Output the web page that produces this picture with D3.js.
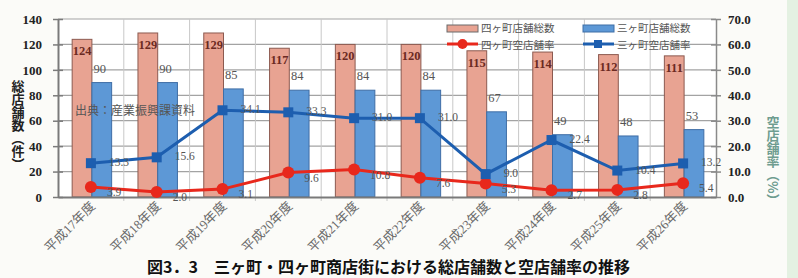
<!DOCTYPE html>
<html>
<head>
<meta charset="utf-8">
<script src="https://cdn.jsdelivr.net/npm/d3@7"></script>
<style>
  body { margin: 0; background: #fbfbf8; }
  svg { display: block; }
</style>
</head>
<body>
<svg id="chart"></svg>
<script>
const years = ['平成17年度', '平成18年度', '平成19年度', '平成20年度', '平成21年度',
  '平成22年度', '平成23年度', '平成24年度', '平成25年度', '平成26年度'];
const yotsuStores = [124, 129, 129, 117, 120, 120, 115, 114, 112, 111];
const mikaStores = [90, 90, 85, 84, 84, 84, 67, 49, 48, 53];
const yotsuVacancy = [3.9, 2.0, 3.1, 9.6, 10.8, 7.6, 5.3, 2.7, 2.8, 5.4];
const mikaVacancy = [13.3, 15.6, 34.1, 33.3, 31.0, 31.0, 9.0, 22.4, 10.4, 13.2];
const leftTicks = [0, 20, 40, 60, 80, 100, 120, 140];
const rightTicks = [0, 10, 20, 30, 40, 50, 60, 70];

const width = 798;
const height = 278;
const margin = { left: 58, right: 82, top: 19, bottom: 81 };

const serif = '"Liberation Serif", "DejaVu Serif", "Noto Sans CJK JP", serif';
const cjk = '"Noto Sans CJK JP", sans-serif';

const svg = d3.select('#chart')
  .attr('width', width)
  .attr('height', height);

// light green strip on the right edge
svg.append('rect')
  .attr('x', 787).attr('y', 0).attr('width', 11).attr('height', height)
  .attr('fill', '#e4f1e2');

const x = d3.scaleBand()
  .domain(years)
  .range([margin.left, width - margin.right]);

const yLeft = d3.scaleLinear()
  .domain([0, 140])
  .range([height - margin.bottom, margin.top]);

const yRight = d3.scaleLinear()
  .domain([0, 70])
  .range([height - margin.bottom, margin.top]);

const plotW = width - margin.left - margin.right;

// plot background
svg.append('rect')
  .attr('x', margin.left).attr('y', margin.top)
  .attr('width', plotW).attr('height', yLeft(0) - margin.top)
  .attr('fill', '#fff');

// horizontal grid
svg.append('g')
  .selectAll('line')
  .data(leftTicks.slice(1))
  .join('line')
  .attr('x1', margin.left).attr('x2', width - margin.right)
  .attr('y1', (d) => yLeft(d)).attr('y2', (d) => yLeft(d))
  .attr('stroke', '#a3a3a3')
  .attr('stroke-width', 1.2);

// vertical grid at category boundaries
svg.append('g')
  .selectAll('line')
  .data(years.slice(1))
  .join('line')
  .attr('x1', (d) => x(d)).attr('x2', (d) => x(d))
  .attr('y1', margin.top).attr('y2', yLeft(0) + 4)
  .attr('stroke', '#c8c8c8')
  .attr('stroke-width', 1);

const barW = x.bandwidth() * 0.3;
const groupOffset = (x.bandwidth() - barW * 2) / 2 + 1;

// bars
svg.append('g')
  .selectAll('rect')
  .data(yotsuStores)
  .join('rect')
  .attr('x', (d, i) => x(years[i]) + groupOffset)
  .attr('y', (d) => yLeft(d))
  .attr('width', barW)
  .attr('height', (d) => yLeft(0) - yLeft(d))
  .attr('fill', '#e8a392')
  .attr('stroke', '#8c5a50')
  .attr('stroke-width', 1);

svg.append('g')
  .selectAll('rect')
  .data(mikaStores)
  .join('rect')
  .attr('x', (d, i) => x(years[i]) + groupOffset + barW)
  .attr('y', (d) => yLeft(d))
  .attr('width', barW)
  .attr('height', (d) => yLeft(0) - yLeft(d))
  .attr('fill', '#5d98d6')
  .attr('stroke', '#3f6ea6')
  .attr('stroke-width', 1);

// axes
const leftAxis = d3.axisLeft(yLeft)
  .tickValues(leftTicks)
  .tickSize(0)
  .tickPadding(16);

const gLeft = svg.append('g')
  .attr('transform', `translate(${margin.left},0)`)
  .call(leftAxis);
gLeft.select('.domain').attr('stroke', '#7a7a7a').attr('stroke-width', 2);
gLeft.selectAll('text')
  .attr('font-family', serif)
  .attr('font-weight', 'bold')
  .attr('font-size', 13)
  .attr('fill', '#222');
gLeft.selectAll('.tick')
  .append('line')
  .attr('x1', -5).attr('x2', 5)
  .attr('stroke', '#7a7a7a').attr('stroke-width', 1.5);

const rightAxis = d3.axisRight(yRight)
  .tickValues(rightTicks)
  .tickSize(0)
  .tickPadding(12)
  .tickFormat(d3.format('.1f'));

const gRight = svg.append('g')
  .attr('transform', `translate(${width - margin.right},0)`)
  .call(rightAxis);
gRight.select('.domain').attr('stroke', '#8a8a8a').attr('stroke-width', 1.5);
gRight.selectAll('text')
  .attr('font-family', serif)
  .attr('font-weight', 'bold')
  .attr('font-size', 13)
  .attr('fill', '#222');
gRight.selectAll('.tick')
  .append('line')
  .attr('x1', -5).attr('x2', 5)
  .attr('stroke', '#8a8a8a').attr('stroke-width', 1.5);

const bottomAxis = d3.axisBottom(x).tickSize(0).tickFormat('');
const gBottom = svg.append('g')
  .attr('transform', `translate(0,${yLeft(0)})`)
  .call(bottomAxis);
gBottom.select('.domain').attr('stroke', '#7a7a7a').attr('stroke-width', 2);

// rotated category labels
svg.append('g')
  .selectAll('text')
  .data(years)
  .join('text')
  .attr('transform', (d) => `translate(${x(d) + x.bandwidth() / 2 + 5},${yLeft(0) + 10}) rotate(-45)`)
  .attr('text-anchor', 'end')
  .attr('font-family', serif)
  .attr('font-size', 13)
  .attr('fill', '#6a6a6a')
  .text((d) => d);

// lines
const cx = (i) => x(years[i]) + x.bandwidth() / 2;

const line = d3.line()
  .x((d, i) => cx(i))
  .y((d) => yRight(d));

svg.append('path')
  .datum(yotsuVacancy)
  .attr('d', line)
  .attr('fill', 'none')
  .attr('stroke', '#e8281c')
  .attr('stroke-width', 3);

svg.append('path')
  .datum(mikaVacancy)
  .attr('d', line)
  .attr('fill', 'none')
  .attr('stroke', '#1d5eaf')
  .attr('stroke-width', 3);

svg.append('g')
  .selectAll('circle')
  .data(yotsuVacancy)
  .join('circle')
  .attr('cx', (d, i) => cx(i))
  .attr('cy', (d) => yRight(d))
  .attr('r', 6)
  .attr('fill', '#e8281c');

svg.append('g')
  .selectAll('rect')
  .data(mikaVacancy)
  .join('rect')
  .attr('x', (d, i) => cx(i) - 5)
  .attr('y', (d) => yRight(d) - 5)
  .attr('width', 10)
  .attr('height', 10)
  .attr('fill', '#1d5eaf');

// data labels
svg.append('g')
  .selectAll('text')
  .data(yotsuStores)
  .join('text')
  .attr('x', (d, i) => x(years[i]) + groupOffset + barW / 2)
  .attr('y', (d) => yLeft(d) + 16)
  .attr('text-anchor', 'middle')
  .attr('font-family', serif)
  .attr('font-weight', 'bold')
  .attr('font-size', 12.5)
  .attr('fill', '#6b2a22')
  .text((d) => d);

svg.append('g')
  .selectAll('text')
  .data(mikaStores)
  .join('text')
  .attr('x', (d, i) => x(years[i]) + groupOffset + barW * 1.5 - 2)
  .attr('y', (d) => yLeft(d) - 10)
  .attr('text-anchor', 'middle')
  .attr('font-family', serif)
  .attr('font-size', 12.5)
  .attr('fill', '#555')
  .text((d) => d);

svg.append('g')
  .selectAll('text')
  .data(mikaVacancy)
  .join('text')
  .attr('x', (d, i) => cx(i) + 18)
  .attr('y', (d) => yRight(d) + 3)
  .attr('font-family', serif)
  .attr('font-size', 11.5)
  .attr('fill', '#555')
  .text((d) => d.toFixed(1));

svg.append('g')
  .selectAll('text')
  .data(yotsuVacancy)
  .join('text')
  .attr('x', (d, i) => cx(i) + 16)
  .attr('y', (d) => yRight(d) + 9)
  .attr('font-family', serif)
  .attr('font-size', 11.5)
  .attr('fill', '#555')
  .text((d) => d.toFixed(1));

// source note
svg.append('text')
  .attr('x', 75).attr('y', 115)
  .attr('font-family', cjk)
  .attr('font-size', 12)
  .attr('fill', '#555')
  .text('出典：産業振興課資料');

// legend
const legend = svg.append('g').attr('font-family', cjk).attr('font-size', 10.5).attr('fill', '#555');

legend.append('rect')
  .attr('x', 447).attr('y', 25).attr('width', 31).attr('height', 7)
  .attr('fill', '#e8a392').attr('stroke', '#6a6a6a');
legend.append('text').attr('x', 481).attr('y', 32).text('四ヶ町店舗総数');

legend.append('rect')
  .attr('x', 583).attr('y', 25).attr('width', 31).attr('height', 7)
  .attr('fill', '#5d98d6').attr('stroke', '#3f6ea6');
legend.append('text').attr('x', 617).attr('y', 32).text('三ヶ町店舗総数');

legend.append('line')
  .attr('x1', 447).attr('x2', 478).attr('y1', 44).attr('y2', 44)
  .attr('stroke', '#e8281c').attr('stroke-width', 3);
legend.append('circle')
  .attr('cx', 462.5).attr('cy', 44).attr('r', 5).attr('fill', '#e8281c');
legend.append('text').attr('x', 481).attr('y', 48.5).text('四ヶ町空店舗率');

legend.append('line')
  .attr('x1', 583).attr('x2', 614).attr('y1', 44).attr('y2', 44)
  .attr('stroke', '#1d5eaf').attr('stroke-width', 3);
legend.append('rect')
  .attr('x', 594).attr('y', 40).attr('width', 8).attr('height', 8).attr('fill', '#1d5eaf');
legend.append('text').attr('x', 617).attr('y', 48.5).text('三ヶ町空店舗率');

// axis titles (vertical)
svg.append('text')
  .attr('x', 18).attr('y', 80)
  .attr('writing-mode', 'tb')
  .attr('font-family', cjk)
  .attr('font-weight', 'bold')
  .attr('font-size', 13)
  .attr('fill', '#222')
  .text('総店舗数（件）');

svg.append('text')
  .attr('x', 773).attr('y', 116)
  .attr('writing-mode', 'tb')
  .attr('font-family', cjk)
  .attr('font-weight', 'bold')
  .attr('font-size', 13)
  .attr('fill', '#6f9d90')
  .text('空店舗率（%）');

// caption
svg.append('text')
  .attr('x', 147).attr('y', 273)
  .attr('font-family', cjk)
  .attr('font-weight', 'bold')
  .attr('font-size', 16)
  .attr('fill', '#111')
  .text('図3．3　三ヶ町・四ヶ町商店街における総店舗数と空店舗率の推移');
</script>
</body>
</html>
